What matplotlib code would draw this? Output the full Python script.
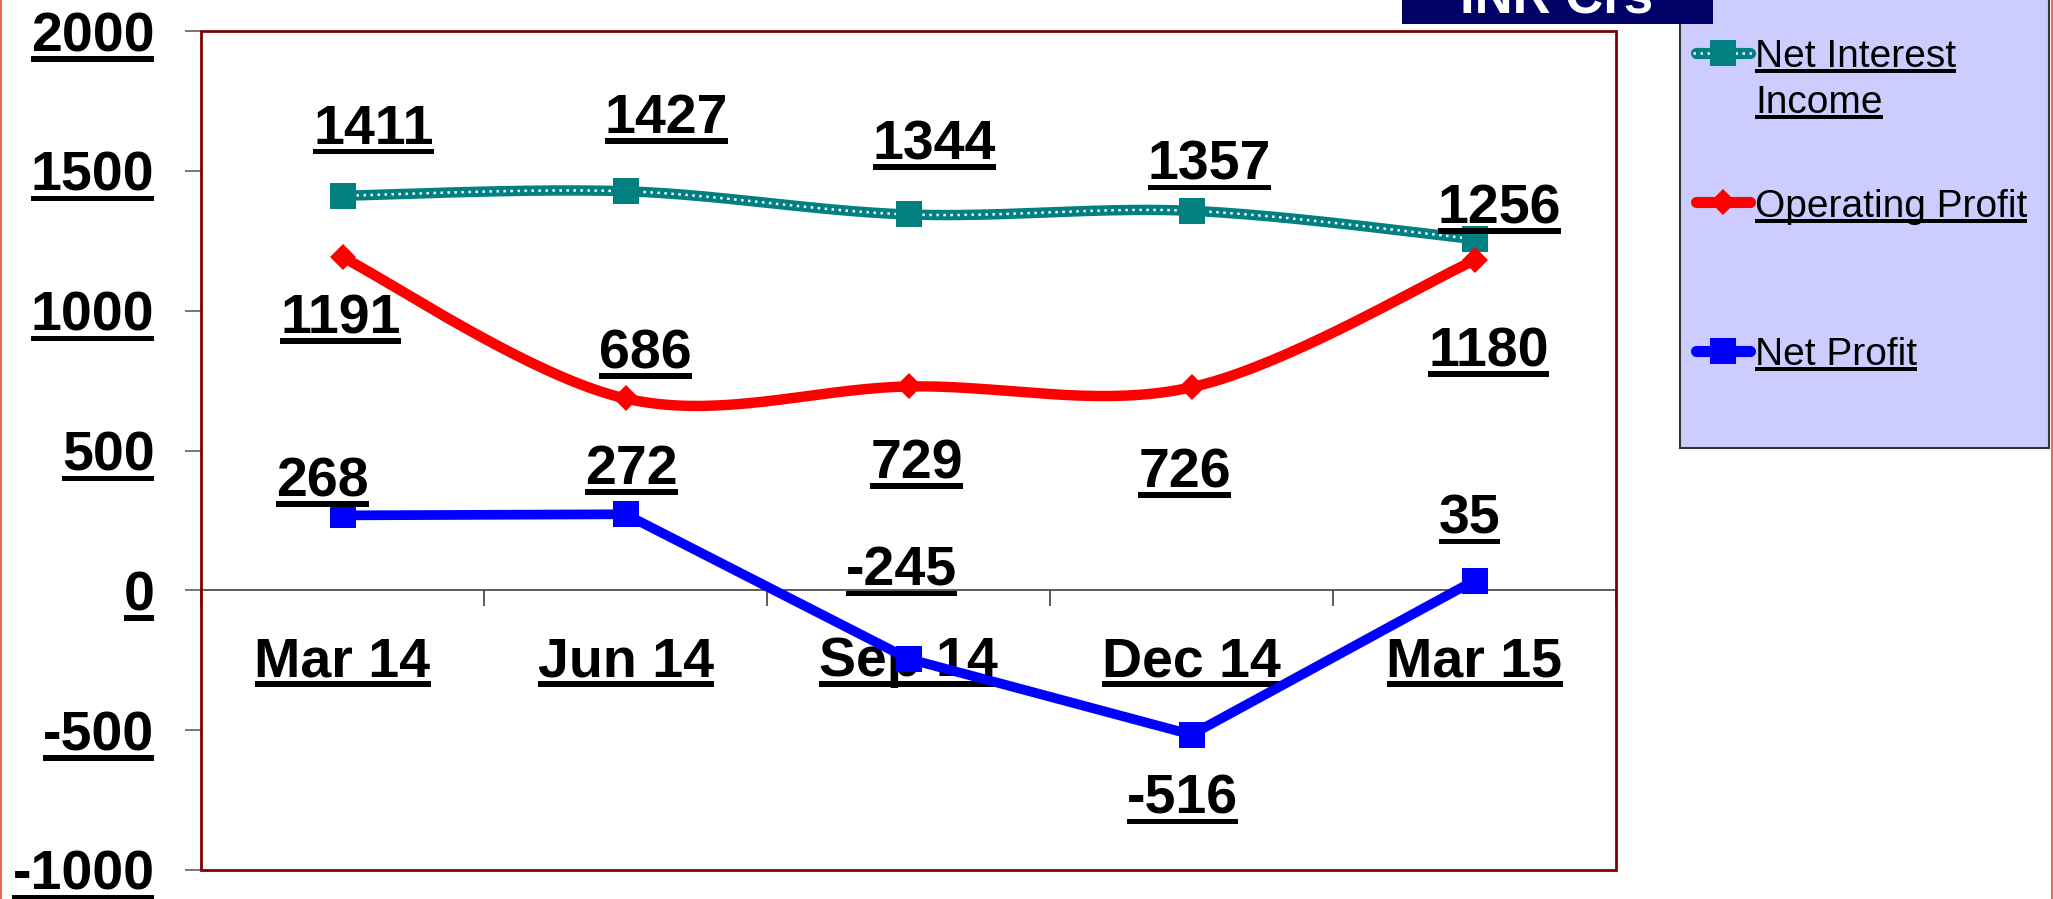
import numpy as np
import matplotlib.pyplot as plt
from matplotlib.lines import Line2D
from matplotlib.patches import Rectangle

plt.rcParams['font.family'] = ['Liberation Sans', 'DejaVu Sans']

quarters = ['Mar 14', 'Jun 14', 'Sep 14', 'Dec 14', 'Mar 15']
net_interest = [1411, 1427, 1344, 1357, 1256]
operating_profit = [1191, 686, 729, 726, 1180]
net_profit = [268, 272, -245, -516, 35]
yticks = [-1000, -500, 0, 500, 1000, 1500, 2000]

# where each value label sits relative to its point, in pixels (right, up)
nii_off = [(31, 52), (41, 58), (26, 55), (18, 31), (25, 16)]
op_off = [(-2, -76), (20, 30), (8, -92), (-7, -100), (14, -106)]
np_off = [(-20, 19), (6, 30), (-7, 73), (-9, -79), (-5, 47)]

TEAL = '#008080'
RED = '#FF0000'
BLUE = '#0000FF'
W, H = 2053, 899


def smooth(vals, steps=40):
    # excel style smoothed line (catmull-rom as bezier segments)
    p = np.column_stack([np.arange(len(vals), dtype=float), vals])
    out = []
    for i in range(len(p) - 1):
        p0 = p[max(i - 1, 0)]
        p1, p2 = p[i], p[i + 1]
        p3 = p[min(i + 2, len(p) - 1)]
        c1 = p1 + (p2 - p0) / 6
        c2 = p2 - (p3 - p1) / 6
        t = np.linspace(0, 1, steps)[:, None]
        seg = (1-t)**3*p1 + 3*(1-t)**2*t*c1 + 3*(1-t)*t**2*c2 + t**3*p2
        out.append(seg if i == 0 else seg[1:])
    s = np.vstack(out)
    return s[:, 0], s[:, 1]


fig = plt.figure(figsize=(W / 100, H / 100), dpi=100)
ax = fig.add_axes([201 / W, 29 / H, 1415 / W, 839 / H])
x = np.arange(len(quarters))

sx, sy = smooth(net_interest)
ax.plot(sx, sy, color=TEAL, lw=7.5, zorder=3)
ax.plot(sx, sy, color='white', lw=1.8, ls=(0, (1, 1.8)), zorder=3.1)
ax.plot(x, net_interest, ls='none', marker='s', ms=18.5, mew=0, color=TEAL, zorder=4)

sx, sy = smooth(operating_profit)
ax.plot(sx, sy, color=RED, lw=7.5, zorder=3)
ax.plot(x, operating_profit, ls='none', marker='D', ms=13, mew=0, color=RED, zorder=4)

ax.plot(x, net_profit, color=BLUE, lw=7, marker='s', ms=18.5, mew=0, zorder=3)

ax.set_xlim(-0.5, 4.5)
ax.set_ylim(-1000, 2000)

for s in ax.spines.values():
    s.set_visible(False)
ax.spines['bottom'].set_visible(True)
ax.spines['bottom'].set_position(('data', 0))
ax.spines['bottom'].set_color('#404040')
ax.spines['bottom'].set_linewidth(1.2)
ax.add_patch(Rectangle((0, 0), 1, 1, transform=ax.transAxes, fill=False,
                       ec='#800000', lw=2, clip_on=False, zorder=5))

ax.set_yticks(yticks)
ax.set_yticklabels([str(v) for v in yticks], fontsize=40, fontweight='bold')
ax.tick_params(axis='y', length=11.5, width=1.2, color='#606060', pad=22)

ax.set_xticks(x)
ax.set_xticklabels(quarters, fontsize=40, fontweight='bold')
ax.set_xticks(np.arange(-0.5, 5, 1), minor=True)
ax.tick_params(axis='x', which='major', length=0, pad=33)
ax.tick_params(axis='x', which='minor', length=11.5, width=1.2, color='#404040', direction='out')

labels = []
for vals, offs in ((net_interest, nii_off), (operating_profit, op_off), (net_profit, np_off)):
    for i, v in enumerate(vals):
        t = ax.annotate(str(v), (i, v), xytext=offs[i], textcoords='offset pixels',
                        ha='center', va='baseline', fontsize=40, fontweight='bold', zorder=6)
        labels.append(t)

# legend panel
fig.add_artist(Rectangle((1680 / W, 451 / H), 369 / W, 0.6, transform=fig.transFigure,
                         fc='#CCCCFF', ec='#333333', lw=1.5, zorder=1))
leg_rows = [(53, TEAL, 's', 18.5, True), (202, RED, 'D', 13, False), (351, BLUE, 's', 18.5, False)]
for yy, col, mk, size, dotted in leg_rows:
    fy = 1 - yy / H
    fig.add_artist(Line2D([1696 / W, 1750 / W], [fy, fy], transform=fig.transFigure,
                          color=col, lw=8, solid_capstyle='round', zorder=2))
    if dotted:
        fig.add_artist(Line2D([1693 / W, 1753 / W], [fy, fy], transform=fig.transFigure,
                              color='white', lw=1.8, ls=(0, (1, 1.8)), zorder=2.1))
    fig.add_artist(Line2D([1723 / W], [fy], transform=fig.transFigure, ls='none',
                          marker=mk, ms=size, mew=0, color=col, zorder=2.2))

leg_texts = []
for txt, base in (('Net Interest', 67), ('Income', 113), ('Operating Profit', 217), ('Net Profit', 365)):
    leg_texts.append(fig.text(1755 / W, 1 - base / H, txt, va='baseline', fontsize=28, zorder=3))

# INR Crs tag at the top
fig.add_artist(Rectangle((1402 / W, 1 - 24 / H), 311 / W, 0.1, transform=fig.transFigure,
                         fc='#000066', ec='none', zorder=1))
fig.text(1557 / W, 1 - 13 / H, 'INR Crs', ha='center', va='baseline', color='white',
         fontsize=38, fontweight='bold', zorder=3)

# page edges
for ex in (0.8 / W, 1 - 0.8 / W):
    fig.add_artist(Line2D([ex, ex], [0, 1], transform=fig.transFigure, color='#F0685A', lw=1.5))

# underline every text
fig.canvas.draw()
r = fig.canvas.get_renderer()


def underline(t, gap, thick, host, z):
    bb = t.get_window_extent(r)
    d = r.get_text_width_height_descent('lp', t.get_fontproperties(), ismath=False)[2]
    base = bb.y0 + d
    rect = Rectangle((bb.x0 / W, (base - gap - thick) / H), bb.width / W, thick / H,
                     transform=fig.transFigure, fc='black', ec='none', zorder=z, clip_on=False)
    host.add_artist(rect)


for t in ax.get_xticklabels() + ax.get_yticklabels():
    underline(t, 5, 5.5, ax, 1.6)
for t in labels:
    underline(t, 5, 5.5, ax, 6)
for t in leg_texts:
    underline(t, 2, 4, fig, 3)

fig.savefig('out.png', dpi=100)
